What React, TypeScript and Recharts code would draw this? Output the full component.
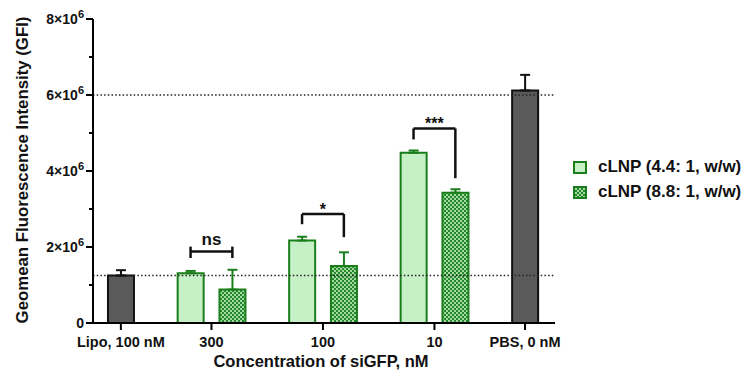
import React from 'react';
import {
  BarChart,
  Bar,
  XAxis,
  YAxis,
  ErrorBar,
  ReferenceLine,
  ReferenceDot,
} from 'recharts';

// values (GFI)
const categories = ['Lipo, 100 nM', '300', '100', '10', 'PBS, 0 nM'];
const controlMean = [1.25e6, null, null, null, 6.12e6];
const controlErr = [0.14e6, null, null, null, 0.41e6];
const lnp44Mean = [null, 1.31e6, 2.17e6, 4.48e6, null];
const lnp44Err = [null, 0.06e6, 0.1e6, 0.06e6, null];
const lnp88Mean = [null, 0.88e6, 1.5e6, 3.43e6, null];
const lnp88Err = [null, 0.52e6, 0.36e6, 0.09e6, null];

const yTicks = [0, 1e6, 2e6, 3e6, 4e6, 5e6, 6e6, 7e6, 8e6];
const refLevels = [1.25e6, 6e6];

// significance brackets
const sigGroups = ['300', '100', '10'];
const sigLabels = ['ns', '*', '***'];
const sigBarY = [1.88e6, 2.87e6, 5.12e6];
const sigTopEnd = [2.01e6, 2.87e6, 5.12e6];
const sigLeftEnd = [1.71e6, 2.6e6, 4.83e6];
const sigRightEnd = [1.71e6, 2.26e6, 3.81e6];

const FONT = '"Liberation Sans", Arial, Helvetica, sans-serif';
const GREEN = '#1a7f1a';
const LIGHT = '#c6f0c6';
const GRAY = '#5a5a5a';

const PAIR_GAP = 3;
const GROUP_GAP = 5;

const rows: any[] = [];
const groupCenters: number[] = [];
const groupEnds: number[][] = [];
let cursor = 0;
categories.forEach((cat, i) => {
  if (controlMean[i] != null) {
    rows.push({ pos: cursor, ctrl: controlMean[i], ctrlErr: [0, controlErr[i]] });
    groupCenters.push(cursor);
    groupEnds.push([cursor, cursor]);
    cursor += GROUP_GAP;
  } else {
    rows.push({ pos: cursor, lnp44: lnp44Mean[i], err44: [0, lnp44Err[i]] });
    rows.push({ pos: cursor + PAIR_GAP, lnp88: lnp88Mean[i], err88: [0, lnp88Err[i]] });
    groupCenters.push(cursor + PAIR_GAP / 2);
    groupEnds.push([cursor, cursor + PAIR_GAP]);
    cursor += PAIR_GAP + GROUP_GAP;
  }
});

const YTick = (props: any) => {
  const { x, y, payload } = props;
  const v = payload.value;
  const axisX = x + 9;
  const major = v % 2e6 === 0;
  return (
    <g>
      <line x1={axisX - (major ? 7 : 4)} x2={axisX} y1={y} y2={y} stroke="#000" strokeWidth={2} />
      {major && (
        <text
          x={x}
          y={y}
          textAnchor="end"
          dominantBaseline="central"
          fontFamily={FONT}
          fontWeight={700}
          fontSize={14}
          fill="#111"
        >
          {v === 0 ? (
            '0'
          ) : (
            <>
              {`${v / 1e6}×10`}
              <tspan fontSize={11} dy={-5}>6</tspan>
            </>
          )}
        </text>
      )}
    </g>
  );
};

export default function App() {
  return (
    <div style={{ position: 'absolute', left: 0, top: 0, width: 744, height: 374, background: '#fff' }}>
      <svg width={0} height={0} style={{ position: 'absolute' }}>
        <defs>
          <pattern id="dots88" width={4} height={4} patternUnits="userSpaceOnUse">
            <rect width={4} height={4} fill="#22882a" />
            <rect x={0} y={0} width={2} height={2} fill="#a4d9a4" />
            <rect x={2} y={2} width={2} height={2} fill="#a4d9a4" />
          </pattern>
        </defs>
      </svg>
      <BarChart
        width={744}
        height={374}
        data={rows}
        margin={{ top: 19, right: 189, bottom: 0, left: 0 }}
      >
        <XAxis
          type="number"
          dataKey="pos"
          domain={[-2, 31.15]}
          allowDataOverflow
          ticks={groupCenters}
          interval={0}
          tickFormatter={(v: number) => categories[groupCenters.indexOf(v)] ?? ''}
          height={51}
          tickSize={7}
          tickMargin={7}
          axisLine={{ stroke: '#000', strokeWidth: 2 }}
          tickLine={{ stroke: '#000', strokeWidth: 2 }}
          tick={{ fill: '#111', fontSize: 14.5, fontWeight: 700, fontFamily: FONT }}
          label={{
            content: () => (
              <text
                x={321}
                y={367}
                textAnchor="middle"
                fontFamily={FONT}
                fontWeight={700}
                fontSize={16.5}
                fill="#111"
              >
                Concentration of siGFP, nM
              </text>
            ),
          }}
        />
        <YAxis
          type="number"
          domain={[0, 8e6]}
          ticks={yTicks}
          interval={0}
          width={93}
          tickSize={7}
          tickMargin={2}
          tickLine={false}
          axisLine={{ stroke: '#000', strokeWidth: 2 }}
          tick={<YTick />}
          label={{
            content: () => (
              <text
                x={22}
                y={170}
                transform="rotate(-90 22 170)"
                textAnchor="middle"
                dominantBaseline="central"
                fontFamily={FONT}
                fontWeight={700}
                fontSize={16.8}
                fill="#111"
              >
                Geomean Fluorescence Intensity (GFI)
              </text>
            ),
          }}
        />
        {refLevels.map((lv) => (
          <ReferenceLine
            key={`ref-${lv}`}
            y={lv}
            stroke="#222"
            strokeWidth={1.5}
            strokeDasharray="1.5 2.2"
          />
        ))}
        <Bar dataKey="ctrl" stackId="s" barSize={26} fill={GRAY} stroke="#111" strokeWidth={2} isAnimationActive={false}>
          <ErrorBar dataKey="ctrlErr" width={5} stroke="#111" strokeWidth={2} direction="y" />
        </Bar>
        <Bar dataKey="lnp44" stackId="s" barSize={26} fill={LIGHT} stroke={GREEN} strokeWidth={2} isAnimationActive={false}>
          <ErrorBar dataKey="err44" width={5} stroke={GREEN} strokeWidth={2} direction="y" />
        </Bar>
        <Bar dataKey="lnp88" stackId="s" barSize={26} fill="url(#dots88)" stroke={GREEN} strokeWidth={2} isAnimationActive={false}>
          <ErrorBar dataKey="err88" width={5} stroke={GREEN} strokeWidth={2} direction="y" />
        </Bar>
        {sigGroups.map((g, i) => {
          const gi = categories.indexOf(g);
          const [l, r] = groupEnds[gi];
          return (
            <React.Fragment key={`sig-${g}`}>
              <ReferenceLine
                segment={[{ x: l, y: sigBarY[i] }, { x: r, y: sigBarY[i] }]}
                stroke="#111"
                strokeWidth={2.5}
                ifOverflow="visible"
              />
              <ReferenceLine
                segment={[{ x: l, y: sigTopEnd[i] }, { x: l, y: sigLeftEnd[i] }]}
                stroke="#111"
                strokeWidth={2.5}
                ifOverflow="visible"
              />
              <ReferenceLine
                segment={[{ x: r, y: sigTopEnd[i] }, { x: r, y: sigRightEnd[i] }]}
                stroke="#111"
                strokeWidth={2.5}
                ifOverflow="visible"
              />
              <ReferenceDot
                x={groupCenters[gi]}
                y={sigBarY[i]}
                r={0}
                ifOverflow="visible"
                shape={(p: any) => (
                  <text
                    x={p.cx}
                    y={p.cy + (sigLabels[i] === 'ns' ? -7 : 1)}
                    textAnchor="middle"
                    fontFamily={FONT}
                    fontWeight={700}
                    fontSize={sigLabels[i] === 'ns' ? 17 : 16}
                    fill="#111"
                  >
                    {sigLabels[i]}
                  </text>
                )}
              />
            </React.Fragment>
          );
        })}
      </BarChart>
      <div style={{ position: 'absolute', left: 573, top: 157, fontFamily: FONT, fontWeight: 700, fontSize: 17, color: '#111' }}>
        <div style={{ display: 'flex', alignItems: 'center', height: 20 }}>
          <svg width={14} height={13} style={{ marginRight: 11 }}>
            <rect x={1} y={1} width={12} height={11} fill={LIGHT} stroke={GREEN} strokeWidth={2} />
          </svg>
          <span style={{ whiteSpace: 'nowrap' }}>cLNP (4.4: 1, w/w)</span>
        </div>
        <div style={{ display: 'flex', alignItems: 'center', height: 20, marginTop: 5 }}>
          <svg width={14} height={13} style={{ marginRight: 11 }}>
            <rect x={1} y={1} width={12} height={11} fill="url(#dots88)" stroke={GREEN} strokeWidth={2} />
          </svg>
          <span style={{ whiteSpace: 'nowrap' }}>cLNP (8.8: 1, w/w)</span>
        </div>
      </div>
    </div>
  );
}
